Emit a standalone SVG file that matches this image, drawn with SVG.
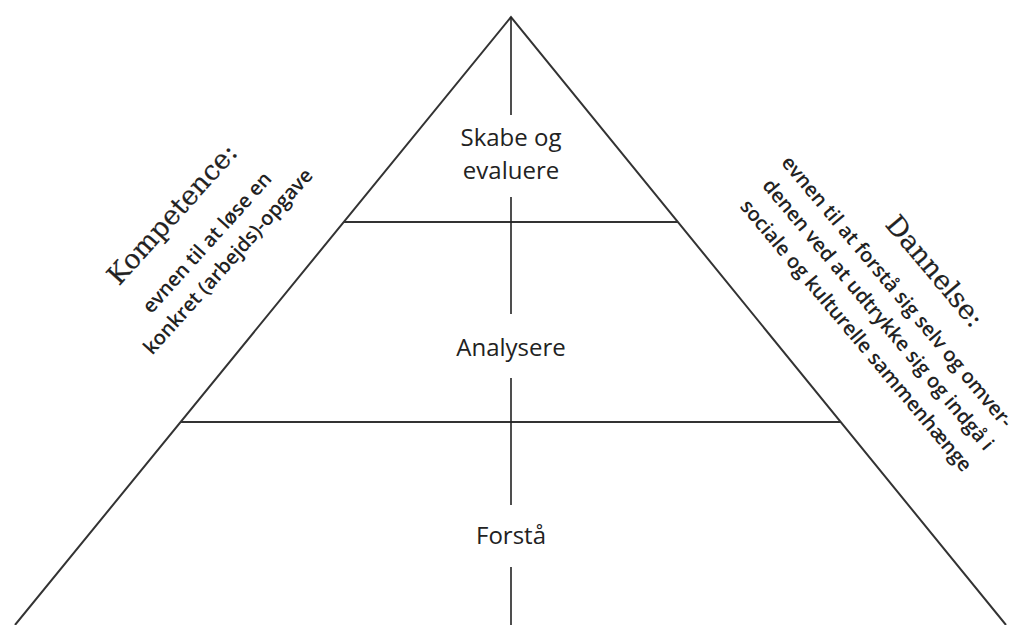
<svg xmlns="http://www.w3.org/2000/svg" width="1020" height="625" viewBox="0 0 1020 625">
<style>
.side{fill:none;stroke:#333;stroke-width:2}
.axis{fill:none;stroke:#222;stroke-width:1.6}
.lvl{font-family:"Open Sans","DejaVu Sans",sans-serif;font-size:24px;fill:#222;text-anchor:middle}
.head{font-family:"DejaVu Serif","Liberation Serif",serif;font-size:27px;fill:#222;stroke:#222;stroke-width:0.2;text-anchor:middle}
.body{font-family:"Open Sans","DejaVu Sans",sans-serif;font-size:20px;font-weight:600;fill:#222;text-anchor:middle}
</style>
<rect width="1020" height="625" fill="#fff"/>
<g id="connectors">
<polyline class="side" points="15,625 511,17 1006,625"/>
<line class="side" x1="344" y1="222" x2="678" y2="222"/>
<line class="side" x1="181" y1="422" x2="841" y2="422"/>
<line class="axis" x1="511" y1="17" x2="511" y2="115"/>
<line class="axis" x1="511" y1="197" x2="511" y2="314"/>
<line class="axis" x1="511" y1="378" x2="511" y2="505"/>
<line class="axis" x1="511" y1="567" x2="511" y2="625"/>
</g>
<g id="level-top"><text class="lvl" x="511" y="146">Skabe og</text><text class="lvl" x="511" y="179">evaluere</text></g>
<g id="level-mid"><text class="lvl" x="511" y="356">Analysere</text></g>
<g id="level-bottom"><text class="lvl" x="511" y="544">Forstå</text></g>
<g id="kompetence">
<text class="head" transform="translate(179,220) rotate(-48)">Kompetence:</text>
<text class="body" transform="translate(212,247) rotate(-48)">evnen til at løse en</text>
<text class="body" transform="translate(233,266) rotate(-48)">konkret (arbejds)-opgave</text>
</g>
<g id="dannelse">
<text class="head" transform="translate(928,277) rotate(50)">Dannelse:</text>
<text class="body" transform="translate(892,296) rotate(50)">evnen til at forstå sig selv og omver-</text>
<text class="body" transform="translate(873,319) rotate(50)">denen ved at udtrykke sig og indgå i</text>
<text class="body" transform="translate(851,340) rotate(50)">sociale og kulturelle sammenhænge</text>
</g>
</svg>
